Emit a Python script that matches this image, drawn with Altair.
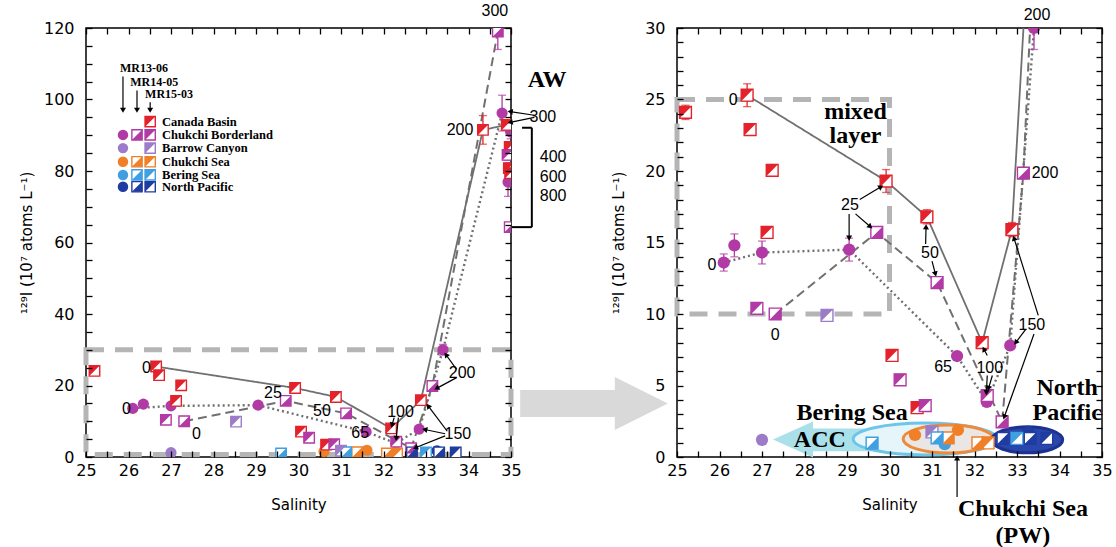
import math
import altair as alt
import pandas as pd

# ---------------- data ----------------
REGIONS = ["Canada Basin", "Chukchi Borderland", "Barrow Canyon", "Chukchi Sea", "Bering Sea", "North Pacific"]
COLORS = ["#e3222b", "#b13aa5", "#9c7cc9", "#f07f27", "#3f9fe0", "#1f3ca0"]
CRUISES = ["MR13-06", "MR14-05", "MR15-03"]

# Canada Basin, MR15-03
CB15_S = [25.2, 26.65, 26.72, 27.24, 27.12, 29.92, 30.88, 30.06, 30.65, 32.18, 32.88, 34.34, 34.9, 34.97, 34.95, 34.98]
CB15_V = [24.1, 25.3, 22.9, 20.05, 15.7, 19.3, 16.8, 7.1, 3.45, 8.0, 15.9, 91.5, 92.9, 86.7, 80.8, 79.4]
CB15_E = [0.5, 0.8, 0.4, 0.4, 0.4, 0.8, 0.5, 0.1, 0.1, 0.1, 0.5, 4.0, 1.5, 1.5, 1.5, 1.5]
# Chukchi Borderland
CBL13_S = [26.1, 26.35, 27.0, 29.05, 31.59, 32.29, 32.84, 33.4, 34.79, 34.99, 34.93]
CBL13_V = [13.6, 14.8, 14.3, 14.5, 7.06, 3.85, 7.8, 30.0, 96.2, 91.0, 76.9]
CBL13_E = [0.6, 0.8, 0.8, 0.8, 0.1, 0.3, 0.2, 1.5, 5.0, 2.0, 4.0]
CBL14_S = [27.31, 29.7, 31.12, 32.65, 33.15, 34.69, 34.97]
CBL14_V = [10.0, 15.7, 12.2, 2.45, 19.85, 119.0, 64.3]
CBL14_E = [0.1, 0.3, 0.2, 0.1, 0.4, 5.0, 1.0]
CBL15_S = [26.88, 30.25, 30.84, 32.3, 34.92]
CBL15_V = [10.4, 5.4, 3.6, 4.3, 84.5]
CBL15_E = [0.1, 0.1, 0.1, 0.2, 1.5]
# Barrow Canyon
BC13_S, BC13_V, BC13_E = [27.0], [1.2], [0.1]
BC15_S, BC15_V, BC15_E = [28.53, 31.0], [9.9, 1.75], [0.1, 0.1]
# Chukchi Sea
CS13_S, CS13_V, CS13_E = [30.6, 31.61], [1.54, 1.89], [0.1, 0.1]
CS14_S, CS14_V, CS14_E = [31.38, 32.08], [1.33, 0.98], [0.1, 0.1]
CS15_S, CS15_V, CS15_E = [32.32], [0.98], [0.1]
# Bering Sea
BS13_S, BS13_V, BS13_E = [31.3], [0.9], [0.1]
BS14_S, BS14_V, BS14_E = [29.59, 31.12], [0.97, 1.33], [0.1, 0.1]
BS15_S, BS15_V, BS15_E = [33.0], [1.3], [0.1]
# North Pacific
NP13_S, NP13_V, NP13_E = [33.26], [1.75], [0.1]
NP14_S, NP14_V, NP14_E = [32.67, 33.31], [1.3, 1.3], [0.1, 0.1]
NP15_S, NP15_V, NP15_E = [33.7], [1.3], [0.1]

GROUPS = [
    ("Canada Basin", "MR15-03", CB15_S, CB15_V, CB15_E),
    ("Chukchi Borderland", "MR13-06", CBL13_S, CBL13_V, CBL13_E),
    ("Chukchi Borderland", "MR14-05", CBL14_S, CBL14_V, CBL14_E),
    ("Chukchi Borderland", "MR15-03", CBL15_S, CBL15_V, CBL15_E),
    ("Barrow Canyon", "MR13-06", BC13_S, BC13_V, BC13_E),
    ("Barrow Canyon", "MR15-03", BC15_S, BC15_V, BC15_E),
    ("Chukchi Sea", "MR13-06", CS13_S, CS13_V, CS13_E),
    ("Chukchi Sea", "MR14-05", CS14_S, CS14_V, CS14_E),
    ("Chukchi Sea", "MR15-03", CS15_S, CS15_V, CS15_E),
    ("Bering Sea", "MR13-06", BS13_S, BS13_V, BS13_E),
    ("Bering Sea", "MR14-05", BS14_S, BS14_V, BS14_E),
    ("Bering Sea", "MR15-03", BS15_S, BS15_V, BS15_E),
    ("North Pacific", "MR13-06", NP13_S, NP13_V, NP13_E),
    ("North Pacific", "MR14-05", NP14_S, NP14_V, NP14_E),
    ("North Pacific", "MR15-03", NP15_S, NP15_V, NP15_E),
]

# depth profiles (solid: Canada Basin, dashed / dotted: Chukchi Borderland)
SOLID_S = [26.65, 29.92, 30.88, 32.18, 32.88, 34.34, 34.9]
SOLID_V = [25.3, 19.3, 16.8, 8.0, 15.9, 91.5, 92.9]
DASH_S = [27.31, 29.7, 31.12, 32.65, 33.15, 34.69]
DASH_V = [10.0, 15.7, 12.2, 2.45, 19.85, 119.0]
DOT_S = [26.1, 27.0, 29.05, 31.59, 32.29, 32.84, 33.4, 34.79]
DOT_V = [13.6, 14.3, 14.5, 7.06, 3.85, 7.8, 30.0, 96.2]

# depth labels (m)
L_LAB_S = [26.42, 25.95, 27.6, 29.4, 30.55, 31.45, 32.4, 33.75, 33.85, 34.62, 33.8, 35.75, 35.99, 35.99, 35.99]
L_LAB_V = [25.0, 13.4, 6.3, 17.8, 12.8, 6.8, 12.5, 6.3, 23.5, 124.8, 91.5, 95.0, 84.0, 78.3, 73.0]
L_LAB_T = ["0", "0", "0", "25", "50", "65", "100", "150", "200", "300", "200", "300", "400", "600", "800"]
R_LAB_S = [26.32, 25.82, 27.31, 29.07, 30.95, 31.26, 32.36, 33.35, 33.66, 33.47]
R_LAB_V = [25.0, 13.4, 8.5, 17.6, 14.3, 6.3, 6.2, 9.2, 19.85, 30.9]
R_LAB_T = ["0", "0", "0", "25", "50", "65", "100", "150", "200", "200"]

# label arrows (from -> to)
L_ARR = [(33.72, 24.5, 33.47, 28.6), (33.72, 22.2, 33.25, 19.2), (33.45, 6.5, 32.97, 7.7),
         (33.5, 7.2, 33.05, 14.3), (33.45, 5.9, 32.75, 2.6), (32.25, 11.0, 32.2, 8.9),
         (32.35, 11.0, 32.3, 5.2), (35.55, 95.6, 34.98, 96.6), (35.55, 95.0, 34.98, 93.6),
         (25.87, 106.4, 25.87, 97.0), (26.2, 102.5, 26.2, 97.0), (26.51, 99.2, 26.51, 97.0)]
R_ARR = [(29.3, 18.0, 29.8, 18.9), (29.05, 17.0, 29.05, 15.3), (29.2, 17.0, 29.55, 16.1),
         (30.85, 14.9, 30.86, 16.1), (31.0, 13.7, 31.08, 12.8), (32.3, 7.1, 32.22, 7.55),
         (32.3, 5.7, 32.28, 4.5), (32.42, 5.7, 32.33, 4.8), (33.2, 8.9, 32.97, 8.0),
         (33.5, 9.9, 32.93, 15.3), (33.4, 8.6, 32.7, 2.8), (31.59, -2.8, 31.59, -0.07)]

# in-figure legend (left panel)
LEG_COL_S = {"MR13-06": 25.87, "MR14-05": 26.2, "MR15-03": 26.51}
LEG_ROW_V = [93.8, 90.1, 86.4, 82.6, 78.9, 75.6]
LEG_ENTRIES = [["MR15-03"], CRUISES, ["MR13-06", "MR15-03"], CRUISES, CRUISES, CRUISES]
LEG_LABEL_S = 26.79
LEG_HEAD_S = [25.8, 26.04, 26.39]
LEG_HEAD_V = [108.9, 104.9, 101.6]

# boxes
BOX_L = (25.0, 35.0, 0.7, 30.0)
BOX_MIXED = (25.0, 30.0, 10.0, 25.0)
BRACKET = (35.26, 35.49, 64.3, 92.1)

# right panel region annotations
R_BIG_S = [29.2, 29.2, 29.12, 28.36, 34.18, 34.18, 33.14, 33.14]
R_BIG_V = [24.1, 22.45, 3.08, 1.2, 4.83, 3.1, -3.65, -5.5]
R_BIG_T = ["mixed", "layer", "Bering Sea", "ACC", "North", "Pacific", "Chukchi Sea", "(PW)"]
ELL_BERING = (30.84, 1.26)
ELL_CHUKCHI = (31.38, 1.26)
ELL_NPAC = (33.24, 1.2)
ACC_HEAD = (27.73, 1.22)
ACC_BODY = (28.2, 29.6, 0.4, 2.0)
GREY_SHAFT = (21.31, 23.54, 2.8, 4.69)
GREY_HEAD = (24.16, 3.74)

# ---------------- helpers ----------------
W, H = 425, 429
SANS = "Liberation Sans"
AXF = "DejaVu Sans"
SERIF = "Liberation Serif"
YTITLE = "¹²⁹I (10⁷ atoms L⁻¹)"
TRI14 = "M 1 -1 L 1 1 L -1 1 Z"      # lower-right half filled
TRI15 = "M -1 -1 L 1 -1 L -1 1 Z"    # upper-left half filled
cs = alt.Scale(domain=REGIONS, range=COLORS)


def ell(r):
    return f"M -1 0 A 1 {r} 0 1 0 1 0 A 1 {r} 0 1 0 -1 0 Z"


def vals(lo, hi, step):
    n = int(round((hi - lo) / step))
    return [round(lo + i * step, 3) for i in range(n + 1)]


points = pd.DataFrame([
    dict(region=r, cruise=c, s=s, v=v, lo=v - e, hi=v + e, e=e)
    for r, c, S, V, E in GROUPS for s, v, e in zip(S, V, E)
])
lines = pd.DataFrame(
    [dict(p="solid", o=i, s=s, v=v) for i, (s, v) in enumerate(zip(SOLID_S, SOLID_V))]
    + [dict(p="dash", o=i, s=s, v=v) for i, (s, v) in enumerate(zip(DASH_S, DASH_V))]
    + [dict(p="dot", o=i, s=s, v=v) for i, (s, v) in enumerate(zip(DOT_S, DOT_V))]
)
legend_pts = pd.DataFrame([
    dict(region=REGIONS[i], cruise=c, s=LEG_COL_S[c], v=LEG_ROW_V[i])
    for i, cr in enumerate(LEG_ENTRIES) for c in cr
])


def build_panel(side):
    left = side == "left"
    ymax = 120 if left else 30
    ystep = 5 if left else 1
    ylab = 20 if left else 5
    kx, ky = W / 10.0, H / float(ymax)
    sx = alt.Scale(domain=[25, 35], nice=False, zero=False)
    sy = alt.Scale(domain=[0, ymax], nice=False, zero=False)
    common = dict(offset=-6, tickSize=6, domain=False, grid=False, labelOverlap=False,
                  labelFlush=False, labelFont=AXF, labelFontSize=16, titleFont=AXF,
                  titleFontSize=15, titleFontWeight="normal", tickColor="black",
                  labelColor="black", titleColor="black", tickWidth=1.3, zindex=2)
    xaxis = alt.Axis(title="Salinity", values=vals(25, 35, 0.5), labelPadding=5, titlePadding=19,
                     labelExpr="datum.value % 1 == 0 ? format(datum.value, 'd') : ''", **common)
    yaxis = alt.Axis(title=YTITLE, values=vals(0, ymax, ystep), labelPadding=12,
                     titlePadding=9 if left else 18,
                     labelExpr=f"datum.value % {ylab} == 0 ? format(datum.value, 'd') : ''", **common)

    def X(f):
        return alt.X(f"{f}:Q", scale=sx, axis=xaxis)

    def Y(f):
        return alt.Y(f"{f}:Q", scale=sy, axis=yaxis)

    msize, csize = (110, 125) if left else (140, 150)
    layers = []

    # dashed grey boxes
    box = BOX_L if left else BOX_MIXED
    bdf = pd.DataFrame([dict(s=box[0], s2=box[1], v=box[2], v2=box[3])])
    layers.append(alt.Chart(bdf).mark_rect(fillOpacity=0, stroke="#b5b5b5", strokeWidth=5,
                                            strokeDash=[18, 11], clip=False).encode(
        X("s"), alt.X2("s2"), Y("v"), alt.Y2("v2")))

    if not left:
        # grey transfer arrow between the panels
        gdf = pd.DataFrame([dict(s=GREY_SHAFT[0], s2=GREY_SHAFT[1], v=GREY_SHAFT[2], v2=GREY_SHAFT[3])])
        layers.append(alt.Chart(gdf).mark_rect(color="#d9d9d9", clip=False).encode(
            X("s"), alt.X2("s2"), Y("v"), alt.Y2("v2")))
        layers.append(alt.Chart(pd.DataFrame([dict(s=GREY_HEAD[0], v=GREY_HEAD[1])])).mark_point(
            shape="M -1 -1 L 1 0 L -1 1 Z", size=53 * 53, filled=True, color="#d9d9d9",
            opacity=1, clip=False).encode(X("s"), Y("v")))
        # ACC arrow and water-mass ellipses
        adf = pd.DataFrame([dict(s=ACC_BODY[0], s2=ACC_BODY[1], v=ACC_BODY[2], v2=ACC_BODY[3])])
        layers.append(alt.Chart(adf).mark_rect(color="#a9e0ea").encode(
            X("s"), alt.X2("s2"), Y("v"), alt.Y2("v2")))
        layers.append(alt.Chart(pd.DataFrame([dict(s=ACC_HEAD[0], v=ACC_HEAD[1])])).mark_point(
            shape="M -1 0 L 1 -0.9 L 1 0.9 Z", size=1600, filled=True, color="#a9e0ea",
            opacity=1).encode(X("s"), Y("v")))
        for (cx, cy), w, h, fill, stroke in [
            (ELL_BERING, 144, 32, "#e6f5fa", "#6cc6ea"),
            (ELL_CHUKCHI, 90, 28, "#e9e6e3", "#ef8a3a"),
            (ELL_NPAC, 71, 26, "#2a45ab", "#1c3290"),
        ]:
            layers.append(alt.Chart(pd.DataFrame([dict(s=cx, v=cy)])).mark_point(
                shape=ell(round(h / w, 3)), size=w * w, filled=True, fill=fill, stroke=stroke,
                strokeWidth=3, opacity=1, fillOpacity=1).encode(X("s"), Y("v")))

    # profile lines
    for p, dash, sw in [("solid", [1, 0], 1.8), ("dash", [9, 5], 2.0), ("dot", [2, 3], 2.4)]:
        layers.append(alt.Chart(lines[lines.p == p]).mark_line(
            color="#707070", strokeWidth=sw, strokeDash=dash, clip=True).encode(
            X("s"), Y("v"), order="o:Q"))

    # error bars
    thr = 1.0 if left else 0.25
    edf = points[points.e > thr]
    col = alt.Color("region:N", scale=cs, legend=None)
    layers.append(alt.Chart(edf).mark_rule(strokeWidth=1.3, clip=True).encode(
        X("s"), Y("lo"), alt.Y2("hi"), color=col))
    for f in ["lo", "hi"]:
        layers.append(alt.Chart(edf).mark_tick(orient="horizontal", size=8, thickness=1.3,
                                               clip=True).encode(X("s"), Y(f), color=col))

    def markers(df, ms, cz, clip):
        out = [
            alt.Chart(df[df.cruise == "MR13-06"]).mark_point(
                shape="circle", filled=True, size=cz, opacity=1, clip=clip).encode(
                X("s"), Y("v"), color=col),
            alt.Chart(df[df.cruise != "MR13-06"]).mark_square(
                fill="white", size=ms, strokeWidth=1.4, opacity=1, clip=clip).encode(
                X("s"), Y("v"), stroke=alt.Stroke("region:N", scale=cs, legend=None)),
        ]
        for c, path in [("MR14-05", TRI14), ("MR15-03", TRI15)]:
            out.append(alt.Chart(df[df.cruise == c]).mark_point(
                shape=path, filled=True, size=ms, opacity=1, clip=clip).encode(
                X("s"), Y("v"), color=col))
        return out

    layers += markers(points, msize, csize, True)

    # depth labels
    S, V, T = (L_LAB_S, L_LAB_V, L_LAB_T) if left else (R_LAB_S, R_LAB_V, R_LAB_T)
    tdf = pd.DataFrame(dict(s=S, v=V, t=T))
    layers.append(alt.Chart(tdf).mark_text(font=SANS, fontSize=16, color="black",
                                           baseline="middle", clip=False).encode(
        X("s"), Y("v"), text="t:N"))

    # arrows
    arr = L_ARR if left else R_ARR
    adf = pd.DataFrame([dict(s=a, v=b, s2=c, v2=d,
                             ang=math.degrees(math.atan2((c - a) * kx, (d - b) * ky)) % 360)
                        for a, b, c, d in arr])
    layers.append(alt.Chart(adf).mark_rule(color="black", strokeWidth=1.2, clip=False).encode(
        X("s"), Y("v"), alt.X2("s2"), alt.Y2("v2")))
    layers.append(alt.Chart(adf).mark_point(shape="triangle-up", filled=True, size=36, color="black",
                                            opacity=1, clip=False).encode(
        alt.X("s2:Q", scale=sx, axis=xaxis), alt.Y("v2:Q", scale=sy, axis=yaxis),
        angle=alt.Angle("ang:Q", scale=None)))

    if left:
        # legend
        layers += markers(legend_pts, 105, 110, False)
        ldf = pd.DataFrame(dict(s=[LEG_LABEL_S] * 6, v=LEG_ROW_V, t=REGIONS))
        layers.append(alt.Chart(ldf).mark_text(font=SERIF, fontSize=12.5, fontWeight="bold",
                                               align="left", baseline="middle", clip=False).encode(
            X("s"), Y("v"), text="t:N"))
        hdf = pd.DataFrame(dict(s=LEG_HEAD_S, v=LEG_HEAD_V, t=CRUISES))
        layers.append(alt.Chart(hdf).mark_text(font=SERIF, fontSize=12, fontWeight="bold",
                                               align="left", baseline="middle", clip=False).encode(
            X("s"), Y("v"), text="t:N"))
        # AW bracket
        b0, b1, v0, v1 = BRACKET
        bk = pd.DataFrame([dict(s=b1, s2=b1, v=v0, v2=v1), dict(s=b0, s2=b1, v=v1, v2=v1),
                           dict(s=35.02, s2=b1, v=v0, v2=v0)])
        layers.append(alt.Chart(bk).mark_rule(color="black", strokeWidth=2, clip=False).encode(
            X("s"), alt.X2("s2"), Y("v"), alt.Y2("v2")))
        layers.append(alt.Chart(pd.DataFrame(dict(s=[35.85], v=[105.5], t=["AW"]))).mark_text(
            font=SERIF, fontSize=24, fontWeight="bold", baseline="middle", clip=False).encode(
            X("s"), Y("v"), text="t:N"))
    else:
        bdf2 = pd.DataFrame(dict(s=R_BIG_S, v=R_BIG_V, t=R_BIG_T))
        layers.append(alt.Chart(bdf2).mark_text(font=SERIF, fontSize=24, fontWeight="bold",
                                                baseline="middle", clip=False).encode(
            X("s"), Y("v"), text="t:N"))

    inner = alt.layer(*layers)
    mirror = alt.Chart(pd.DataFrame(dict(s=[25.0], v=[0.0]))).mark_point(opacity=0).encode(
        alt.X("s:Q", scale=sx, axis=alt.Axis(orient="top", labels=False, title=None,
                                              values=vals(25, 35, 0.5), **common)),
        alt.Y("v:Q", scale=sy, axis=alt.Axis(orient="right", labels=False, title=None,
                                              values=vals(0, ymax, ystep), **common)))
    return alt.layer(inner, mirror).resolve_axis(x="independent", y="independent").properties(
        width=W, height=H)


chart = alt.hconcat(build_panel("left"), build_panel("right"), spacing=166, bounds="flush").properties(
    padding={"left": 18, "top": 2, "right": 2, "bottom": 2}
).configure_view(stroke="black", strokeWidth=1.5)

chart.save("out.html", embed_options={"renderer": "svg", "actions": False})
